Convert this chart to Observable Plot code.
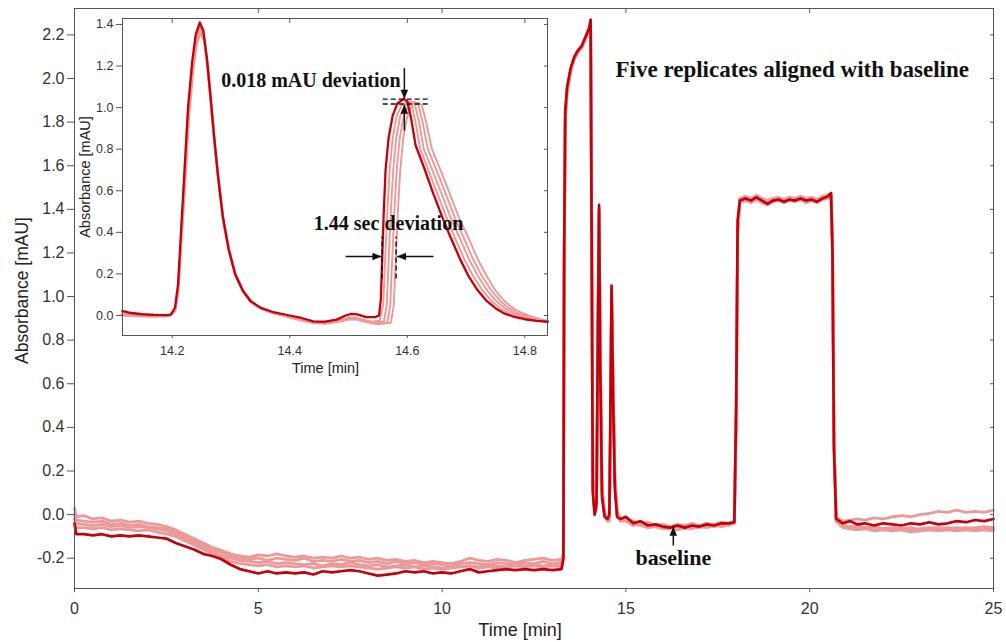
<!DOCTYPE html>
<html><head><meta charset="utf-8">
<script src="https://cdn.jsdelivr.net/npm/d3@7"></script>
<script src="https://cdn.jsdelivr.net/npm/@observablehq/plot@0.6"></script>
<style>
html,body{margin:0;padding:0;background:#fff;}
#wrap{position:relative;width:1006px;height:642px;overflow:hidden;background:#fff;}
#wrap svg{position:absolute;left:0;top:0;}
</style></head><body><div id="wrap"></div>
<script>
// ---------- main chart data (time in min, absorbance in mAU) ----------
const mainTime = [
  0, 0.05, 0.25, 0.5, 0.75, 1, 1.25, 1.5, 1.75, 2, 2.25, 2.5, 2.75, 3, 3.25, 3.5, 3.75, 4, 4.25, 4.5,
  4.75, 5, 5.25, 5.5, 5.75, 6, 6.25, 6.5, 6.75, 7, 7.25, 7.5, 7.75, 8, 8.25, 8.5, 8.75, 9, 9.25, 9.5,
  9.75, 10, 10.25, 10.5, 10.75, 11, 11.25, 11.5, 11.75, 12, 12.25, 12.5, 12.75, 13, 13.25,
  13.3, 13.32, 13.35, 13.4, 13.5, 13.6, 13.7, 13.8, 13.9, 14.0, 14.04, 14.07, 14.1, 14.15, 14.2, 14.24, 14.27, 14.3, 14.35, 14.42, 14.5, 14.55, 14.58, 14.61, 14.65, 14.7, 14.76, 14.85,
  15.0, 15.2, 15.4, 15.6, 15.8, 16.0, 16.2, 16.4, 16.6, 16.8, 17.0, 17.2, 17.4, 17.6, 17.8, 17.95,
  18.0, 18.04, 18.1, 18.25, 18.4, 18.55, 18.7, 18.85, 19.0, 19.15, 19.3, 19.45, 19.6, 19.75, 19.9, 20.05, 20.2, 20.35, 20.5, 20.58, 20.62, 20.66, 20.72,
  20.9, 21.1, 21.3, 21.5, 21.75, 22, 22.25, 22.5, 22.75, 23, 23.25, 23.5, 23.75, 24, 24.25, 24.5, 24.75, 25
];
const mainRun1 = [ // dark replicate
  -0.04, -0.09, -0.09, -0.095, -0.09, -0.1, -0.095, -0.1, -0.095, -0.1,
  -0.105, -0.11, -0.13, -0.145, -0.16, -0.18, -0.19, -0.205, -0.23, -0.25,
  -0.26, -0.27, -0.26, -0.27, -0.265, -0.27, -0.265, -0.275, -0.26, -0.265,
  -0.26, -0.255, -0.26, -0.27, -0.28, -0.275, -0.27, -0.26, -0.265, -0.26,
  -0.27, -0.265, -0.27, -0.26, -0.25, -0.265, -0.26, -0.255, -0.25, -0.255,
  -0.25, -0.255, -0.25, -0.255, -0.25,
  -0.2, 1.2, 1.85, 1.96, 2.05, 2.1, 2.13, 2.15, 2.19, 2.23, 2.27, 1.2, 0.1, 0.0, 0.05, 0.9, 1.42, 0.7, 0.08, -0.01, -0.02, 0.0, 0.5, 1.05, 0.55, 0.12, -0.01, -0.02,
  -0.01, -0.04, -0.03, -0.05, -0.045, -0.055, -0.06, -0.05, -0.06, -0.05, -0.055, -0.045, -0.05, -0.04, -0.04, -0.035,
  0.5, 1.35, 1.44, 1.45, 1.44, 1.455, 1.44, 1.425, 1.44, 1.445, 1.435, 1.445, 1.44, 1.45, 1.44, 1.445, 1.435, 1.45, 1.46, 1.475, 1.2, 0.3, -0.02,
  -0.04, -0.03, -0.045, -0.04, -0.05, -0.04, -0.045, -0.05, -0.04, -0.045, -0.035, -0.045, -0.04, -0.03, -0.035, -0.025, -0.03, -0.02
];
const mainRun2 = [
  0.03, -0.01, -0.005, -0.02, -0.015, -0.03, -0.025, -0.035, -0.03, -0.04,
  -0.045, -0.055, -0.07, -0.09, -0.11, -0.13, -0.15, -0.165, -0.18, -0.19,
  -0.195, -0.185, -0.19, -0.18, -0.19, -0.195, -0.19, -0.2, -0.195, -0.2,
  -0.19, -0.2, -0.195, -0.205, -0.2, -0.21, -0.205, -0.215, -0.21, -0.22,
  -0.215, -0.22, -0.225, -0.215, -0.2, -0.21, -0.215, -0.205, -0.21, -0.22,
  -0.21, -0.205, -0.2, -0.21, -0.205,
  -0.18, 1.1, 1.8, 1.94, 2.04, 2.09, 2.12, 2.14, 2.18, 2.22, 2.26, 1.25, 0.12, 0.01, 0.04, 0.85, 1.4, 0.75, 0.1, 0.0, -0.02, -0.01, 0.4, 1.03, 0.6, 0.15, 0.0, -0.02,
  -0.02, -0.03, -0.04, -0.035, -0.05, -0.045, -0.055, -0.045, -0.05, -0.04, -0.05, -0.04, -0.045, -0.035, -0.04, -0.03,
  0.45, 1.3, 1.45, 1.46, 1.45, 1.465, 1.45, 1.44, 1.45, 1.455, 1.445, 1.455, 1.45, 1.46, 1.45, 1.455, 1.445, 1.46, 1.465, 1.47, 1.25, 0.35, -0.01,
  -0.03, -0.025, -0.02, -0.025, -0.015, -0.02, -0.01, -0.005, -0.01, 0.0, 0.005, 0.015, 0.01, 0.02, 0.01, 0.015, 0.01, 0.02
];
const mainRun3 = [
  0.0, -0.025, -0.03, -0.035, -0.03, -0.045, -0.04, -0.05, -0.045, -0.055,
  -0.06, -0.065, -0.08, -0.1, -0.12, -0.14, -0.16, -0.175, -0.19, -0.2,
  -0.205, -0.2, -0.21, -0.2, -0.205, -0.21, -0.2, -0.215, -0.21, -0.215,
  -0.205, -0.215, -0.21, -0.22, -0.215, -0.225, -0.215, -0.225, -0.22, -0.23,
  -0.225, -0.23, -0.235, -0.225, -0.22, -0.225, -0.23, -0.22, -0.225, -0.23,
  -0.22, -0.225, -0.215, -0.225, -0.22,
  -0.17, 1.15, 1.82, 1.95, 2.04, 2.1, 2.12, 2.15, 2.18, 2.22, 2.25, 1.3, 0.15, 0.0, 0.03, 0.8, 1.39, 0.8, 0.12, 0.0, -0.03, -0.02, 0.35, 1.02, 0.62, 0.16, 0.01, -0.03,
  -0.03, -0.05, -0.04, -0.055, -0.05, -0.06, -0.065, -0.055, -0.065, -0.055, -0.06, -0.05, -0.055, -0.045, -0.05, -0.04,
  0.4, 1.28, 1.43, 1.44, 1.43, 1.445, 1.43, 1.42, 1.435, 1.44, 1.43, 1.44, 1.435, 1.445, 1.43, 1.44, 1.43, 1.445, 1.45, 1.46, 1.22, 0.32, -0.03,
  -0.05, -0.055, -0.05, -0.06, -0.055, -0.065, -0.06, -0.065, -0.06, -0.07, -0.065, -0.06, -0.065, -0.06, -0.065, -0.06, -0.055, -0.06
];
const mainRun4 = [
  -0.02, -0.04, -0.045, -0.05, -0.045, -0.055, -0.05, -0.06, -0.055, -0.06,
  -0.065, -0.075, -0.09, -0.11, -0.13, -0.15, -0.17, -0.19, -0.2, -0.21,
  -0.215, -0.22, -0.215, -0.225, -0.22, -0.225, -0.23, -0.225, -0.235, -0.225,
  -0.23, -0.22, -0.23, -0.235, -0.23, -0.24, -0.235, -0.23, -0.24, -0.235,
  -0.24, -0.245, -0.235, -0.24, -0.235, -0.24, -0.23, -0.235, -0.24, -0.23,
  -0.235, -0.23, -0.235, -0.23, -0.235,
  -0.19, 1.05, 1.8, 1.93, 2.03, 2.09, 2.12, 2.14, 2.18, 2.22, 2.25, 1.35, 0.18, 0.02, 0.02, 0.78, 1.38, 0.82, 0.14, 0.01, -0.03, -0.03, 0.3, 1.0, 0.65, 0.18, 0.02, -0.02,
  -0.02, -0.045, -0.05, -0.06, -0.055, -0.065, -0.06, -0.07, -0.06, -0.065, -0.055, -0.06, -0.05, -0.055, -0.045, -0.04,
  0.42, 1.3, 1.44, 1.45, 1.44, 1.45, 1.44, 1.43, 1.445, 1.45, 1.44, 1.45, 1.445, 1.455, 1.44, 1.45, 1.44, 1.455, 1.46, 1.465, 1.24, 0.36, -0.03,
  -0.06, -0.065, -0.07, -0.065, -0.075, -0.07, -0.075, -0.07, -0.08, -0.075, -0.07, -0.075, -0.07, -0.075, -0.07, -0.075, -0.07, -0.075
];
const mainRun5 = [
  -0.05, -0.06, -0.06, -0.065, -0.06, -0.07, -0.065, -0.07, -0.075, -0.07,
  -0.08, -0.09, -0.1, -0.12, -0.14, -0.16, -0.18, -0.2, -0.215, -0.225,
  -0.23, -0.235, -0.23, -0.24, -0.235, -0.24, -0.235, -0.245, -0.24, -0.235,
  -0.24, -0.235, -0.24, -0.245, -0.25, -0.245, -0.24, -0.245, -0.24, -0.25,
  -0.245, -0.25, -0.245, -0.24, -0.235, -0.245, -0.24, -0.245, -0.24, -0.235,
  -0.24, -0.235, -0.24, -0.235, -0.24,
  -0.2, 1.1, 1.83, 1.95, 2.04, 2.1, 2.13, 2.14, 2.19, 2.23, 2.26, 1.28, 0.14, 0.01, 0.03, 0.82, 1.4, 0.78, 0.11, 0.0, -0.025, -0.02, 0.38, 1.03, 0.6, 0.14, 0.0, -0.03,
  -0.025, -0.04, -0.035, -0.05, -0.045, -0.05, -0.055, -0.05, -0.06, -0.05, -0.055, -0.045, -0.05, -0.04, -0.045, -0.035,
  0.48, 1.32, 1.44, 1.45, 1.445, 1.46, 1.445, 1.435, 1.445, 1.45, 1.44, 1.45, 1.445, 1.455, 1.445, 1.45, 1.44, 1.455, 1.46, 1.47, 1.23, 0.34, -0.02,
  -0.055, -0.06, -0.065, -0.06, -0.07, -0.065, -0.07, -0.065, -0.07, -0.065, -0.06, -0.065, -0.06, -0.065, -0.06, -0.065, -0.06, -0.065
];
const mainXTicks = [0, 5, 10, 15, 20, 25];
const mainYTicks = [-0.2, 0, 0.2, 0.4, 0.6, 0.8, 1.0, 1.2, 1.4, 1.6, 1.8, 2.0, 2.2];

// ---------- inset data: [time, absorbance] ----------
const insetRun1 = [[14.115,0.022],[14.13,0.012],[14.15,0.006],[14.17,0.003],[14.19,0.002],[14.198,0.004],[14.205,0.04],[14.21,0.15],[14.215,0.4],[14.22,0.65],[14.227,1.0],[14.234,1.22],[14.24,1.35],[14.247,1.41],[14.253,1.37],[14.259,1.24],[14.265,1.06],[14.271,0.87],[14.278,0.67],[14.286,0.48],[14.296,0.32],[14.307,0.2],[14.32,0.12],[14.333,0.07],[14.35,0.038],[14.37,0.018],[14.4,0.0],[14.42,-0.012],[14.44,-0.028],[14.46,-0.03],[14.48,-0.02],[14.495,0.0],[14.505,0.008],[14.515,0.005],[14.53,-0.008],[14.545,-0.008],[14.552,0.0],[14.555,0.08],[14.557,0.25],[14.56,0.5],[14.563,0.7],[14.568,0.85],[14.575,0.96],[14.583,1.02],[14.594,1.042],[14.6,1.03],[14.607,0.94],[14.614,0.82],[14.63,0.7],[14.645,0.58],[14.66,0.47],[14.673,0.38],[14.69,0.27],[14.704,0.19],[14.72,0.12],[14.735,0.07],[14.75,0.035],[14.765,0.01],[14.78,-0.005],[14.8,-0.018],[14.82,-0.026],[14.839,-0.03]];
const insetRun2 = [[14.115,0.01],[14.14,0.003],[14.17,0.0],[14.195,0.0],[14.205,0.03],[14.21,0.13],[14.215,0.38],[14.22,0.62],[14.227,0.97],[14.234,1.19],[14.24,1.33],[14.247,1.39],[14.253,1.35],[14.259,1.22],[14.265,1.04],[14.271,0.85],[14.278,0.66],[14.286,0.47],[14.296,0.32],[14.307,0.2],[14.32,0.12],[14.333,0.068],[14.35,0.036],[14.37,0.015],[14.4,-0.005],[14.42,-0.018],[14.44,-0.032],[14.46,-0.034],[14.48,-0.025],[14.5,-0.01],[14.51,-0.008],[14.525,-0.02],[14.54,-0.03],[14.553,-0.025],[14.559,0.05],[14.562,0.25],[14.566,0.5],[14.57,0.7],[14.575,0.85],[14.582,0.96],[14.59,1.01],[14.6,1.032],[14.607,1.02],[14.614,0.93],[14.622,0.8],[14.637,0.69],[14.652,0.58],[14.667,0.47],[14.68,0.38],[14.697,0.27],[14.712,0.19],[14.728,0.12],[14.743,0.07],[14.758,0.035],[14.773,0.012],[14.79,-0.008],[14.81,-0.02],[14.839,-0.03]];
const insetRun3 = [[14.115,0.005],[14.14,0.0],[14.17,-0.003],[14.195,-0.002],[14.205,0.025],[14.21,0.12],[14.215,0.36],[14.221,0.63],[14.228,0.97],[14.235,1.19],[14.241,1.32],[14.248,1.38],[14.254,1.34],[14.26,1.21],[14.266,1.03],[14.272,0.84],[14.279,0.65],[14.287,0.46],[14.297,0.31],[14.308,0.2],[14.321,0.12],[14.335,0.066],[14.352,0.034],[14.372,0.013],[14.4,-0.008],[14.42,-0.02],[14.44,-0.034],[14.46,-0.036],[14.48,-0.028],[14.5,-0.015],[14.51,-0.012],[14.525,-0.025],[14.545,-0.035],[14.56,-0.03],[14.565,0.05],[14.568,0.25],[14.572,0.5],[14.576,0.7],[14.581,0.85],[14.588,0.96],[14.596,1.01],[14.606,1.03],[14.613,1.015],[14.62,0.93],[14.628,0.8],[14.644,0.69],[14.659,0.58],[14.674,0.47],[14.688,0.38],[14.705,0.27],[14.72,0.19],[14.736,0.12],[14.751,0.07],[14.766,0.035],[14.781,0.012],[14.8,-0.01],[14.82,-0.022],[14.839,-0.03]];
const insetRun4 = [[14.115,0.0],[14.14,-0.004],[14.17,-0.006],[14.195,-0.004],[14.205,0.02],[14.211,0.12],[14.216,0.35],[14.222,0.62],[14.229,0.96],[14.236,1.18],[14.242,1.31],[14.249,1.37],[14.255,1.33],[14.261,1.2],[14.267,1.02],[14.273,0.83],[14.28,0.64],[14.288,0.45],[14.298,0.31],[14.309,0.19],[14.322,0.115],[14.336,0.064],[14.353,0.032],[14.373,0.012],[14.4,-0.01],[14.42,-0.022],[14.44,-0.035],[14.46,-0.038],[14.48,-0.03],[14.5,-0.018],[14.512,-0.015],[14.53,-0.03],[14.55,-0.04],[14.566,-0.032],[14.571,0.05],[14.574,0.25],[14.578,0.5],[14.582,0.7],[14.587,0.85],[14.594,0.96],[14.602,1.01],[14.612,1.028],[14.619,1.012],[14.626,0.93],[14.635,0.8],[14.651,0.69],[14.666,0.58],[14.681,0.47],[14.695,0.38],[14.712,0.27],[14.727,0.19],[14.743,0.12],[14.758,0.07],[14.773,0.035],[14.788,0.012],[14.805,-0.008],[14.822,-0.02],[14.839,-0.028]];
const insetRun5 = [[14.115,0.004],[14.14,-0.002],[14.17,-0.004],[14.195,-0.003],[14.205,0.022],[14.21,0.11],[14.215,0.34],[14.221,0.6],[14.228,0.95],[14.235,1.17],[14.241,1.3],[14.248,1.36],[14.254,1.32],[14.26,1.19],[14.266,1.01],[14.272,0.82],[14.279,0.63],[14.287,0.44],[14.297,0.3],[14.308,0.185],[14.321,0.11],[14.335,0.06],[14.352,0.03],[14.372,0.01],[14.4,-0.01],[14.42,-0.024],[14.44,-0.036],[14.46,-0.04],[14.48,-0.032],[14.5,-0.02],[14.512,-0.018],[14.53,-0.032],[14.55,-0.042],[14.572,-0.035],[14.577,0.05],[14.58,0.25],[14.584,0.5],[14.588,0.7],[14.593,0.85],[14.6,0.96],[14.608,1.01],[14.618,1.025],[14.625,1.01],[14.632,0.93],[14.642,0.8],[14.658,0.69],[14.673,0.58],[14.688,0.47],[14.703,0.38],[14.72,0.27],[14.735,0.19],[14.75,0.12],[14.765,0.07],[14.78,0.035],[14.795,0.012],[14.812,-0.006],[14.826,-0.018],[14.839,-0.025]];
const insetXTicks = [14.2, 14.4, 14.6, 14.8];
const insetYTicks = [0, 0.2, 0.4, 0.6, 0.8, 1.0, 1.2, 1.4];

// ---------- annotations ----------
const mainTitle = [{x: 14.717, y: 2.041, label: "Five replicates aligned with baseline"}];
const baselineNote = [{x: 16.29, y: -0.199, label: "baseline"}];
const baselineArrow = [{x1: 16.29, y1: -0.142, x2: 16.29, y2: -0.056, dir: 0}];
const heightNote = [{x: 14.5886, y: 1.13, label: "0.018 mAU deviation"}];
const timeNote = [{x: 14.441, y: 0.441, label: "1.44 sec deviation"}];
const insetArrows = [
  {x1: 14.595, y1: 1.19, x2: 14.595, y2: 1.043, dir: 180},
  {x1: 14.595, y1: 0.89, x2: 14.595, y2: 1.014, dir: 0},
  {x1: 14.495, y1: 0.284, x2: 14.556, y2: 0.284, dir: 90},
  {x1: 14.6445, y1: 0.284, x2: 14.5825, y2: 0.284, dir: -90}
];
const peakDashes = [{y: 1.041, x1: 14.559, x2: 14.639}, {y: 1.017, x1: 14.559, x2: 14.639}];
const timeDashes = [{x: 14.557, y1: 0.176, y2: 0.377}, {x: 14.581, y1: 0.176, y2: 0.377}];

const DARK = "#c4000b";
const LIGHT = "#ec9a99";
const AXIS = "#555";
const TXT = "#333";
const SERIF = "Liberation Serif, Times New Roman, serif";

const headShape = {
  draw(context, l) {
    context.moveTo(0, -l);
    context.lineTo(l * 0.42, 0);
    context.lineTo(-l * 0.42, 0);
    context.closePath();
  }
};

const toRows = (ys) => mainTime.map((t, i) => ({t, a: ys[i]}));
const lightMain = [mainRun2, mainRun3, mainRun4, mainRun5];
const fmt1 = d => d.toFixed(1);

const main = Plot.plot({
  width: 1006, height: 642,
  marginLeft: 74, marginRight: 13, marginTop: 8, marginBottom: 54,
  x: {domain: [0, 25], label: null},
  y: {domain: [-0.339, 2.321], label: null},
  style: {fontFamily: "Liberation Sans, Arial, sans-serif", color: TXT, background: "white", overflow: "visible"},
  marks: [
    ...lightMain.map(ys => Plot.line(toRows(ys), {x: "t", y: "a", stroke: LIGHT, strokeWidth: 2.8, strokeLinejoin: "round"})),
    Plot.line(toRows(mainRun1), {x: "t", y: "a", stroke: DARK, strokeWidth: 2.7, strokeLinejoin: "round"}),
    Plot.frame({stroke: AXIS, strokeWidth: 1}),
    Plot.axisY({ticks: mainYTicks, tickSize: 7, tickPadding: 3, tickFormat: fmt1, fontSize: 16, stroke: AXIS, fill: TXT, label: null}),
    Plot.axisY({anchor: "right", ticks: mainYTicks, tickSize: -4, tickFormat: () => "", stroke: AXIS, label: null}),
    Plot.axisX({ticks: mainXTicks, tickSize: 4, tickPadding: 10, tickFormat: d => String(d), fontSize: 16, stroke: AXIS, fill: TXT, label: null}),
    Plot.axisX({anchor: "top", ticks: mainXTicks, tickSize: -4, tickFormat: () => "", stroke: AXIS, label: null}),
    Plot.text(["Absorbance [mAU]"], {frameAnchor: "left", dx: -52, dy: -8, rotate: -90, textAnchor: "middle", lineAnchor: "middle", fontSize: 17.5, fill: "#222"}),
    Plot.text(["Time [min]"], {frameAnchor: "bottom", dx: -14, dy: 42, textAnchor: "middle", lineAnchor: "middle", fontSize: 18, fill: "#222"}),
    Plot.text(mainTitle, {x: "x", y: "y", text: "label", textAnchor: "start", lineAnchor: "middle", fontFamily: SERIF, fontWeight: "bold", fontSize: 23, fill: "#111"}),
    Plot.text(baselineNote, {x: "x", y: "y", text: "label", textAnchor: "middle", lineAnchor: "middle", fontFamily: SERIF, fontWeight: "bold", fontSize: 22, fill: "#111"}),
    Plot.link(baselineArrow, {x1: "x1", y1: "y1", x2: "x2", y2: "y2", stroke: "#111", strokeWidth: 1.5}),
    Plot.vector(baselineArrow, {x: "x2", y: "y2", rotate: "dir", length: 9, anchor: "end", shape: headShape, fill: "#111", stroke: "none"})
  ]
});

const insetLines = [insetRun2, insetRun3, insetRun4, insetRun5];
const inset = Plot.plot({
  width: 560, height: 380,
  marginLeft: 122, marginRight: 13, marginTop: 18, marginBottom: 45,
  x: {domain: [14.1155, 14.8385], label: null},
  y: {domain: [-0.0962, 1.4286], label: null},
  style: {fontFamily: "Liberation Sans, Arial, sans-serif", color: TXT, background: "transparent", overflow: "visible"},
  marks: [
    Plot.frame({fill: "white", stroke: "none"}),
    ...insetLines.map(d => Plot.line(d, {x: p => p[0], y: p => p[1], stroke: LIGHT, strokeWidth: 1.9, strokeLinejoin: "round"})),
    Plot.line(insetRun1, {x: p => p[0], y: p => p[1], stroke: DARK, strokeWidth: 2.3, strokeLinejoin: "round"}),
    Plot.ruleY(peakDashes, {y: "y", x1: "x1", x2: "x2", stroke: "#111", strokeWidth: 1.4, strokeDasharray: "5,3"}),
    Plot.ruleX(timeDashes, {x: "x", y1: "y1", y2: "y2", stroke: "#111", strokeWidth: 1.4, strokeDasharray: "5,3"}),
    Plot.link(insetArrows, {x1: "x1", y1: "y1", x2: "x2", y2: "y2", stroke: "#111", strokeWidth: 1.5}),
    Plot.vector(insetArrows, {x: "x2", y: "y2", rotate: "dir", length: 9, anchor: "end", shape: headShape, fill: "#111", stroke: "none"}),
    Plot.text(heightNote, {x: "x", y: "y", text: "label", textAnchor: "end", lineAnchor: "middle", fontFamily: SERIF, fontWeight: "bold", fontSize: 20, fill: "#111"}),
    Plot.text(timeNote, {x: "x", y: "y", text: "label", textAnchor: "start", lineAnchor: "middle", fontFamily: SERIF, fontWeight: "bold", fontSize: 20, fill: "#111"}),
    Plot.frame({stroke: AXIS, strokeWidth: 1}),
    Plot.axisY({ticks: insetYTicks, tickSize: 6, tickPadding: 3, tickFormat: fmt1, fontSize: 12.5, stroke: AXIS, fill: TXT, label: null}),
    Plot.axisY({anchor: "right", ticks: insetYTicks, tickSize: -4, tickFormat: () => "", stroke: AXIS, label: null}),
    Plot.axisX({ticks: insetXTicks, tickSize: 3, tickPadding: 8, tickFormat: fmt1, fontSize: 12.5, stroke: AXIS, fill: TXT, label: null}),
    Plot.axisX({anchor: "top", ticks: insetXTicks, tickSize: -4, tickFormat: () => "", stroke: AXIS, label: null}),
    Plot.text(["Absorbance [mAU]"], {frameAnchor: "left", dx: -37, rotate: -90, textAnchor: "middle", lineAnchor: "middle", fontSize: 14.5, fill: "#222"}),
    Plot.text(["Time [min]"], {frameAnchor: "bottom", dx: -9.5, dy: 33, textAnchor: "middle", lineAnchor: "middle", fontSize: 14.5, fill: "#222"})
  ]
});

const wrap = document.getElementById("wrap");
wrap.append(main, inset);
</script>
</body></html>
